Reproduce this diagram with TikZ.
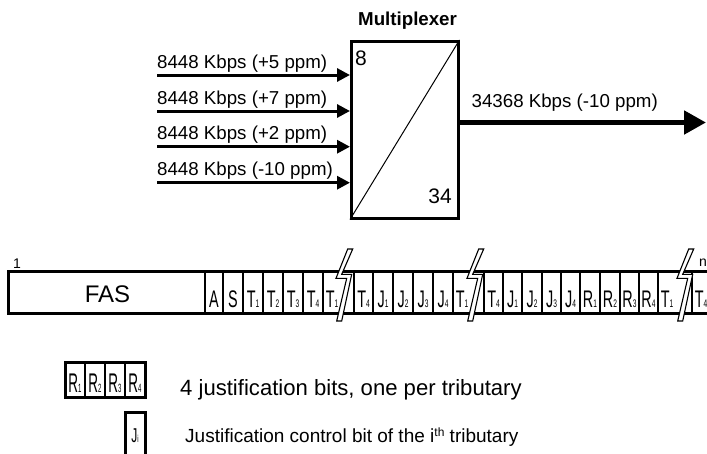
\documentclass[tikz,border=0pt]{standalone}
\usepackage{fontspec}
\setmainfont{Liberation Sans}
\newfontfamily\narrowfont[FakeStretch=0.6]{Liberation Sans}
\newfontfamily\narrowerfont[FakeStretch=0.5]{Liberation Sans}
\usetikzlibrary{arrows.meta}
\newcommand{\fsz}[1]{\fontsize{#1}{#1}\selectfont}
\newcommand{\bitlbl}[2]{{\narrowfont\fsz{24}#1{\fsz{11}#2}}}
\newcommand{\legbit}[2]{{\narrowerfont\fsz{27}#1{\fsz{12}#2}}}
\begin{document}
\begin{tikzpicture}[x=1pt,y=-1pt,
  lbl/.style={anchor=base west, inner sep=0pt, font=\fsz{18.7}},
  legtext/.style={anchor=base west, inner sep=0pt},
  celltext/.style={anchor=base, inner sep=0pt},
  inarrow/.style={line width=3pt, -{Triangle[length=13pt,width=13pt]}},
  outarrow/.style={line width=5pt, -{Triangle[length=22pt,width=23pt]}},
  frameline/.style={line width=3pt},
  boltstyle/.style={draw=black, fill=white, line width=1.1pt, line join=miter},
  muxbox/.style={draw, line width=3pt, inner sep=0pt, minimum width=106.5pt, minimum height=176.5pt, anchor=north west}
]
\useasboundingbox (0,0) rectangle (707,453);
\clip (0,0) rectangle (707,453);
\fill[white] (0,0) rectangle (707,453);

% ---------------- Multiplexer ----------------
\node[muxbox] (mux) at (350,40) {};
\draw[line width=1pt] (mux.south west) -- (mux.north east);
\node[anchor=base west, inner sep=0pt, font=\bfseries\fsz{18.7}] (muxlbl) at (358,25) {Multiplexer};
\node[anchor=base west, inner sep=0pt, font=\fsz{21}] (eight) at (355,65) {8};
\node[anchor=base east, inner sep=0pt, font=\fsz{21}] (thirtyfour) at (452,203) {34};

\coordinate (in1) at (157,75);
\coordinate (in2) at (157,111);
\coordinate (in3) at (157,146.7);
\coordinate (in4) at (157,182.7);
\foreach \k in {1,2,3,4} \draw[inarrow] (in\k) -- (in\k -| mux.west);
\node[lbl] (lab1) at (157,68) {8448 Kbps (+5 ppm)};
\node[lbl] (lab2) at (157,104) {8448 Kbps (+7 ppm)};
\node[lbl] (lab3) at (157,139.7) {8448 Kbps (+2 ppm)};
\node[lbl] (lab4) at (157,175.7) {8448 Kbps (-10 ppm)};

\coordinate (outend) at (706,122.5);
\draw[outarrow] (mux.east |- outend) -- (outend);
\node[lbl] (outlbl) at (471.5,107) {34368 Kbps (-10 ppm)};

% ---------------- Frame ----------------
\draw[frameline] (8,271.5) -- (720,271.5);
\draw[frameline] (8,313.5) -- (720,313.5);
\draw[frameline] (8,270) -- (8,315);
\foreach \x/\w in {205/2.6,223/1.8,243/1.3,263/1.3,283/1.3,303/1.3,323/1.3,354/1.3,373/2.6,393/1.3,413/1.3,433/1.3,453/2.6,484/1.3,503/1.8,522/1.3,542/1.3,561/1.3,580/2.6,600/1.3,620/1.3,639/1.3,658/2.6,692/1.3}
  \draw[line width=\w pt] (\x,271.5) -- (\x,313.5);

\foreach \b in {344,475,685}
  \draw[boltstyle, shift={(\b,0)}] (3.7,249) -- (8.7,249) -- (-2.3,274.3) -- (7.7,274.3) -- (-2.3,321) -- (-7.3,321) -- (2.7,278.3) -- (-8,278.3) -- cycle;

\node[anchor=base, inner sep=0pt, font=\fsz{24}] (fas) at (107.5,302) {FAS};
\node[anchor=base west, inner sep=0pt, font=\fsz{14}] (one) at (13,268) {1};
\node[anchor=base west, inner sep=0pt, font=\fsz{14}] (enn) at (699,266) {n};

\foreach \x/\l/\s [count=\i] in {214/A/,233/S/,253/T/1,273/T/2,293/T/3,313/T/4,332/T/1,363.5/T/4,383/J/1,403/J/2,423/J/3,443/J/4,462/T/1,493.5/T/4,512.5/J/1,532/J/2,551.5/J/3,570.5/J/4,590/R/1,610/R/2,629.5/R/3,648.5/R/4,667/T/1,701/T/4}
  \node[celltext] (cell\i) at (\x,307) {\bitlbl{\l}{\s}};

% ---------------- Legend ----------------
\draw[line width=3pt] (65,362) rectangle (145,397);
\foreach \x in {85,105,125} \draw[line width=2pt] (\x,362) -- (\x,397);
\foreach \x/\s [count=\i] in {75/1,95/2,115/3,135/4}
  \node[celltext] (leg\i) at (\x,392) {\legbit{R}{\s}};
\node[legtext, font=\fsz{22.1}] (legtxt1) at (180,395) {4 justification bits, one per tributary};

\draw[line width=3pt] (125,470) -- (125,412) -- (145,412) -- (145,470);
\node[celltext] (legj) at (135,442) {{\narrowfont\fsz{20}J{\fsz{10}i}}};
\node[legtext, font=\fsz{19}] (legtxt2) at (185,442) {Justification control bit of the i\raisebox{6pt}{\fsz{12}th} tributary};
\end{tikzpicture}
\end{document}
